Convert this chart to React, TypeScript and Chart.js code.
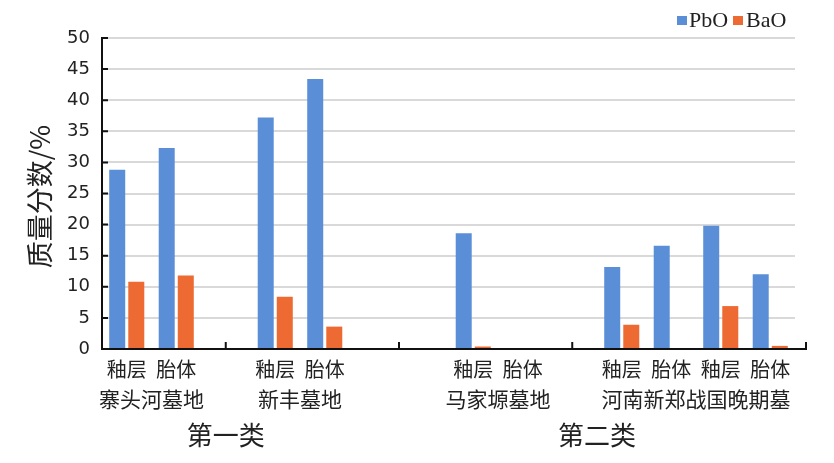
import { useEffect, useRef } from "react";
import { Chart, registerables } from "chart.js";

Chart.register(...registerables);

// 14 category slots, blanks keep the gaps between sites
const categories = ["釉层", "胎体", "", "釉层", "胎体", "", "", "釉层", "胎体", "", "釉层", "胎体", "釉层", "胎体"];
const pbo = [28.8, 32.3, null, 37.2, 43.4, null, null, 18.6, null, null, 13.2, 16.6, 19.8, 12.0];
const bao = [10.8, 11.8, null, 8.4, 3.6, null, null, 0.4, null, null, 3.9, null, 6.9, 0.5];

const siteNames = ["寨头河墓地", "新丰墓地", "马家塬墓地", "河南新郑战国晚期墓"];
const siteSpans = [[0, 1], [3, 4], [7, 8], [10, 13]];
const classNames = ["第一类", "第二类"];
const classSpans = [[0, 4], [6, 13]];
const separators = [2, 5.5, 9];

const BLUE = "#5A8FD8";
const ORANGE = "#EE6A33";
const CJK = '"Noto Sans CJK SC", sans-serif';

const decorations = {
  id: "decorations",
  afterDraw(chart: any) {
    const { ctx, chartArea: area, scales } = chart;
    const x = scales.x;
    const y = scales.y;
    const base = y.getPixelForValue(0);
    const axisEnd = area.right + 12;
    ctx.save();

    // x axis line with separator ticks
    ctx.strokeStyle = "#111";
    ctx.lineWidth = 2;
    ctx.beginPath();
    ctx.moveTo(area.left - 1, base);
    ctx.lineTo(axisEnd, base);
    const seps = separators.map((v) => x.getPixelForValue(v)).concat([axisEnd - 1]);
    seps.forEach((px) => {
      ctx.moveTo(px, base);
      ctx.lineTo(px, base - 7);
    });
    // inward y ticks
    y.ticks.forEach((t: any) => {
      const py = y.getPixelForValue(t.value);
      ctx.moveTo(area.left, py);
      ctx.lineTo(area.left + 6, py);
    });
    ctx.stroke();

    ctx.fillStyle = "#222";
    ctx.textAlign = "center";
    ctx.textBaseline = "middle";
    ctx.font = `21px ${CJK}`;
    siteNames.forEach((name, i) => {
      const [a, b] = siteSpans[i];
      const cx = (x.getPixelForValue(a) + x.getPixelForValue(b)) / 2;
      ctx.fillText(name, cx, base + 50);
    });
    ctx.font = `26px ${CJK}`;
    classNames.forEach((name, i) => {
      const [a, b] = classSpans[i];
      const cx = (x.getPixelForValue(a) + x.getPixelForValue(b)) / 2;
      ctx.fillText(name, cx, base + 86);
    });

    // y title
    ctx.save();
    ctx.translate(40, (area.top + area.bottom) / 2 + 3);
    ctx.rotate(-Math.PI / 2);
    ctx.font = `27px ${CJK}`;
    ctx.fillText("质量分数/%", 0, 0);
    ctx.restore();

    // legend
    ctx.textAlign = "left";
    ctx.textBaseline = "alphabetic";
    ctx.font = '22px "Liberation Serif", serif';
    ctx.fillStyle = BLUE;
    ctx.fillRect(677, 16, 10, 9);
    ctx.fillStyle = "#222";
    ctx.fillText("PbO", 689, 27);
    ctx.fillStyle = ORANGE;
    ctx.fillRect(733, 16, 10, 9);
    ctx.fillStyle = "#222";
    ctx.fillText("BaO", 746, 27);

    ctx.restore();
  },
};

const App = () => {
  const canvasRef = useRef<HTMLCanvasElement>(null);
  const chartRef = useRef<Chart | null>(null);

  useEffect(() => {
    if (!canvasRef.current) return;
    chartRef.current = new Chart(canvasRef.current, {
      type: "bar",
      data: {
        labels: categories,
        datasets: [
          { label: "PbO", data: pbo, backgroundColor: BLUE, categoryPercentage: 0.77, barPercentage: 0.84 },
          { label: "BaO", data: bao, backgroundColor: ORANGE, categoryPercentage: 0.77, barPercentage: 0.84 },
        ],
      },
      options: {
        animation: false,
        responsive: false,
        layout: { padding: { left: 8, top: 38, right: 39, bottom: 0 } },
        plugins: { legend: { display: false }, tooltip: { enabled: false } },
        scales: {
          x: {
            grid: { display: false },
            border: { display: false },
            ticks: {
              autoSkip: false,
              maxRotation: 0,
              padding: 0,
              color: "#222",
              font: { family: CJK, size: 20 },
            },
            afterFit: (s: any) => {
              s.height = 114;
            },
          },
          y: {
            min: 0,
            max: 50,
            ticks: {
              stepSize: 5,
              padding: 12,
              color: "#222",
              font: { family: '"DejaVu Sans", sans-serif', size: 18 },
            },
            grid: { color: "#d9d9d9", lineWidth: 2, drawTicks: false },
            border: { color: "#111", width: 2 },
            afterFit: (s: any) => {
              s.width = 94;
            },
          },
        },
      },
      plugins: [decorations],
    });
    return () => {
      chartRef.current?.destroy();
      chartRef.current = null;
    };
  }, []);

  return (
    <div style={{ position: "absolute", left: 0, top: 0, width: 834, height: 463, background: "#fff" }}>
      <canvas ref={canvasRef} width={834} height={463} />
    </div>
  );
};

export default App;
